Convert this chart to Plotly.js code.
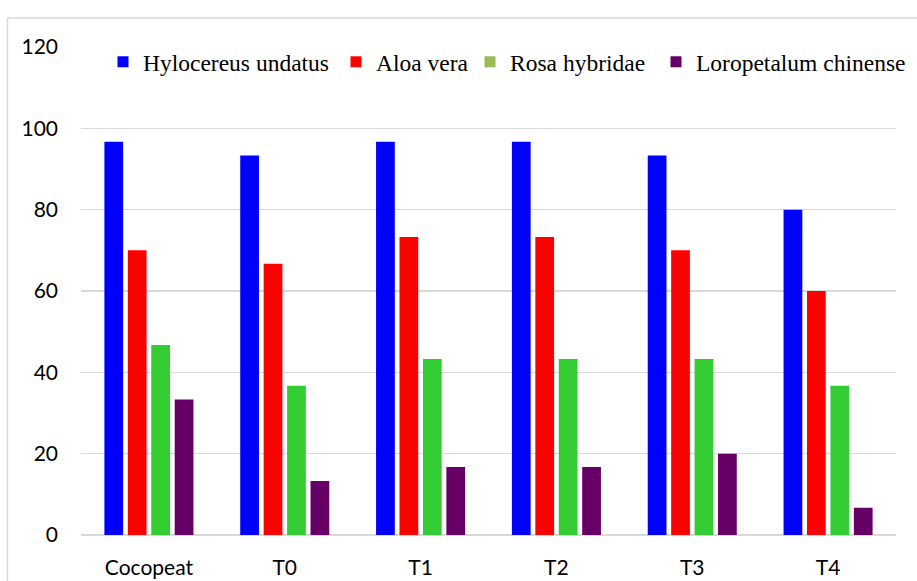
<!DOCTYPE html>
<html>
<head>
<meta charset="utf-8">
<script src="https://cdn.plot.ly/plotly-3.0.1.min.js"></script>
<style>html,body{margin:0;padding:0;background:#fff;}#chart{width:917px;height:581px;}</style>
</head>
<body>
<div id="chart"></div>
<script>
const categories = ["Cocopeat", "T0", "T1", "T2", "T3", "T4"];
const seriesNames = ["Hylocereus undatus", "Aloa vera", "Rosa hybridae", "Loropetalum chinense"];
const hylocereus = [96.7, 93.3, 96.7, 96.7, 93.3, 80];
const aloaVera = [70, 66.7, 73.3, 73.3, 70, 60];
const rosaHybridae = [46.7, 36.7, 43.3, 43.3, 43.3, 36.7];
const loropetalum = [33.3, 13.3, 16.7, 16.7, 20, 6.7];
const yTicks = [0, 20, 40, 60, 80, 100, 120];

const barColors = ["#0000FF", "#FF0000", "#33CC33", "#660066"];
const legendColors = ["#0000FF", "#FF0000", "#9BBB59", "#660066"];
const seriesValues = [hylocereus, aloaVera, rosaHybridae, loropetalum];
const legendIds = ["legend", "legend2", "legend3", "legend4"];
const legendLeftPx = [103, 336, 470, 656];

const traces = [];
seriesValues.forEach((vals, i) => {
  traces.push({
    type: "bar", x: categories, y: vals, name: seriesNames[i],
    marker: {color: barColors[i]}, showlegend: false
  });
});
seriesValues.forEach((vals, i) => {
  traces.push({
    type: "scatter", mode: "markers", x: [null], y: [null], name: seriesNames[i],
    marker: {color: legendColors[i], symbol: "square", size: 11},
    showlegend: true, legend: legendIds[i]
  });
});

const L = 81, R = 21, T = 47, B = 46;
const W = 917, H = 581;
const pw = W - L - R, ph = H - T - B;
const px = v => (v - L) / pw;
const py = v => (H - B - v) / ph;

const layout = {
  width: W, height: H,
  margin: {l: L, r: R, t: T, b: B, pad: 0, autoexpand: false},
  paper_bgcolor: "#fff", plot_bgcolor: "#fff",
  barmode: "group", bargap: 0.31, bargroupgap: 0.2,
  showlegend: true,
  xaxis: {
    type: "category", showgrid: false, showline: false, zeroline: false,
    ticks: "", ticklabelstandoff: 18, automargin: false,
    tickfont: {family: "Lato", size: 21, color: "#000"},
    fixedrange: true
  },
  yaxis: {
    range: [0, 120], tickvals: yTicks, ticktext: yTicks.map(String),
    showgrid: true, gridcolor: "#d9d9d9", gridwidth: 1.5,
    zeroline: true, zerolinecolor: "#d9d9d9", zerolinewidth: 1.5,
    showline: false, ticks: "", ticklabelstandoff: 22, automargin: false,
    tickfont: {family: "Lato", size: 21, color: "#000"},
    fixedrange: true
  },
  shapes: [{
    type: "rect", xref: "paper", yref: "paper", layer: "below",
    x0: px(7.5), x1: px(940), y0: py(600), y1: py(18),
    line: {color: "#d9d9d9", width: 1.5}, fillcolor: "rgba(0,0,0,0)"
  }]
};
legendIds.forEach((id, i) => {
  layout[id] = {
    orientation: "h", x: px(legendLeftPx[i]), xanchor: "left",
    y: py(62), yanchor: "middle",
    font: {family: "Liberation Serif", size: 23.5, color: "#000"},
    bgcolor: "rgba(0,0,0,0)", itemclick: false
  };
});

Plotly.newPlot("chart", traces, layout, {displayModeBar: false, staticPlot: true});
</script>
</body>
</html>
